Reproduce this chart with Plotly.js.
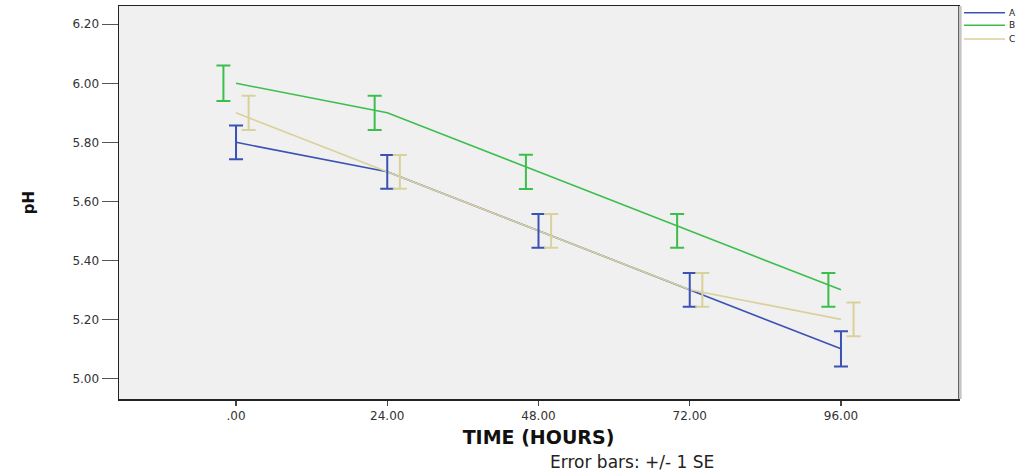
<!DOCTYPE html>
<html>
<head>
<meta charset="utf-8">
<script src="https://cdn.plot.ly/plotly-3.0.1.min.js"></script>
<style>html,body{margin:0;padding:0;background:#fff;}#chart{width:1027px;height:475px;}</style>
</head>
<body>
<div id="chart"></div>
<script>
const hours = [0, 24, 48, 72, 96];
const tickLabels = [".00", "24.00", "48.00", "72.00", "96.00"];
const groups = ["A", "B", "C"];
const meanA = [5.80, 5.70, 5.50, 5.30, 5.10];
const meanB = [6.00, 5.90, 5.70, 5.50, 5.30];
const meanC = [5.90, 5.70, 5.50, 5.30, 5.20];
const seA = [0.057, 0.057, 0.057, 0.057, 0.06];
const seB = [0.06, 0.058, 0.058, 0.057, 0.057];
const seC = [0.058, 0.057, 0.057, 0.057, 0.057];
const yTicks = [5.00, 5.20, 5.40, 5.60, 5.80, 6.00, 6.20];

const colors = {A: "#3b52b4", B: "#3cbe4c", C: "#d9d19c"};
const dodge = {A: 0, B: -2, C: 2};
const means = {A: meanA, B: meanB, C: meanC};
const ses = {A: seA, B: seB, C: seC};

const traces = [];
groups.forEach(g => {
  traces.push({
    x: hours, y: means[g], name: g, type: "scatter", mode: "lines",
    line: {color: colors[g], width: 1.6}, hoverinfo: "skip", showlegend: false
  });
});
groups.forEach(g => {
  traces.push({
    x: hours.map(h => h + dodge[g]), y: means[g], type: "scatter", mode: "markers",
    marker: {size: 1, opacity: 0, color: colors[g]}, showlegend: false, hoverinfo: "skip",
    error_y: {type: "data", array: ses[g], visible: true, color: colors[g], thickness: 2, width: 7}
  });
});

// manual legend (compact, like the reference)
const shapes = [
  {type: "line", xref: "paper", yref: "paper", x0: 1.0025, x1: 1.0025, y0: 0, y1: 1.0,
   line: {color: "#c4c4c4", width: 3}}
];
const annotations = [];
const legendY = [0.983, 0.951, 0.916];
groups.forEach((g, i) => {
  shapes.push({type: "line", xref: "paper", yref: "paper", x0: 1.0072, x1: 1.056,
    y0: legendY[i], y1: legendY[i], line: {color: colors[g], width: 1.6}});
  annotations.push({text: g, xref: "paper", yref: "paper", x: 1.060, y: legendY[i],
    xanchor: "left", yanchor: "middle", showarrow: false, borderpad: 0,
    font: {family: "DejaVu Sans, sans-serif", size: 9, color: "#222"}});
});
annotations.push({
  text: "Error bars: +/- 1 SE", xref: "paper", yref: "paper", x: 0.611, y: -0.160,
  yanchor: "middle", xanchor: "center", showarrow: false,
  font: {family: "DejaVu Sans, sans-serif", size: 17, color: "#222"}
});

const layout = {
  width: 1027, height: 475,
  margin: {l: 119, r: 69, t: 6, b: 76},
  paper_bgcolor: "#ffffff", plot_bgcolor: "#f0f0f0",
  font: {family: "DejaVu Sans, sans-serif", color: "#222"},
  showlegend: false,
  xaxis: {
    range: [-18.57, 114.57], tickmode: "array", tickvals: hours, ticktext: tickLabels,
    ticks: "outside", ticklen: 5, tickcolor: "#444", tickwidth: 1.5, showgrid: false, zeroline: false,
    showline: true, linecolor: "#222", linewidth: 1.5, mirror: true,
    tickfont: {size: 12, color: "#333"},
    title: {text: "<b>TIME (HOURS)</b>", font: {size: 19, color: "#111"}, standoff: 9}
  },
  yaxis: {
    range: [4.930, 6.262], tickmode: "array", tickvals: yTicks, tickformat: ".2f",
    ticks: "outside", ticklen: 16, tickcolor: "#555", tickwidth: 1.5, showgrid: false, zeroline: false,
    showline: true, linecolor: "#222", linewidth: 1.5, mirror: true,
    tickfont: {size: 12, color: "#333"},
    title: {text: "<b>pH</b>", font: {size: 15, color: "#111"}, standoff: 34}
  },
  shapes: shapes,
  annotations: annotations
};

Plotly.newPlot("chart", traces, layout, {displayModeBar: false, staticPlot: true});
</script>
</body>
</html>
